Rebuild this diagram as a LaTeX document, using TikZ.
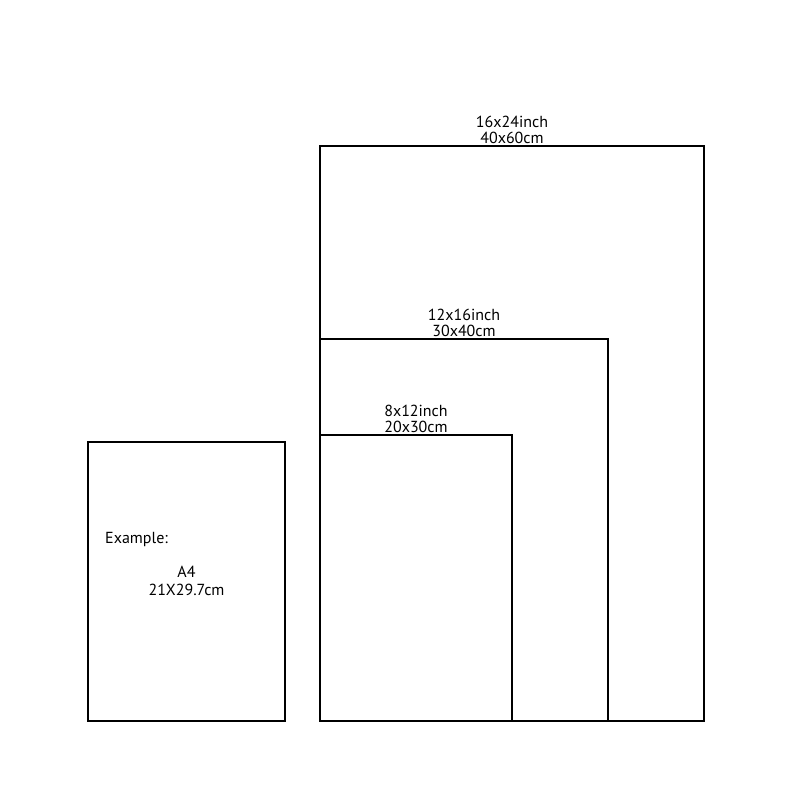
\documentclass[tikz,border=0pt]{standalone}
\usepackage{fontspec}
\setmainfont{PT Sans}
\usetikzlibrary{positioning}
\tikzset{
    frame/.style={rectangle, draw, line width=1.3pt, inner sep=0pt, outer sep=0pt},
    sizetag/.style={align=center, inner sep=1pt, font=\fontsize{16}{15.5}\selectfont}
}

\begin{document}
\begin{tikzpicture}[x=1pt, y=-1pt]
	\useasboundingbox (0,0) rectangle (800,800);
	% frames
	\node (a4) [frame, minimum width=197pt, minimum height=279pt] at (186.5, 581.5) {};
	\node (large) [frame, minimum width=384pt, minimum height=575pt] at (512, 433.5) {};
	\node (medium) [frame, minimum width=288pt, minimum height=382pt] at (464, 530) {};
	\node (small) [frame, minimum width=192pt, minimum height=286pt] at (416, 578) {};
	
	% sizes
	\node (largetag) [sizetag, above=1.5pt of large.north] {16x24inch\\40x60cm};
	\node (mediumtag) [sizetag, above=1.5pt of medium.north] {12x16inch\\30x40cm};
	\node (smalltag) [sizetag, above=1.5pt of small.north] {8x12inch\\20x30cm};
	
	\node (example) [sizetag, anchor=base west] at (104, 543) {Example:};
	\node (a4tag) [sizetag, font=\fontsize{16}{18}\selectfont] at (186.5, 581) {A4\\21X29.7cm};
\end{tikzpicture}
\end{document}
